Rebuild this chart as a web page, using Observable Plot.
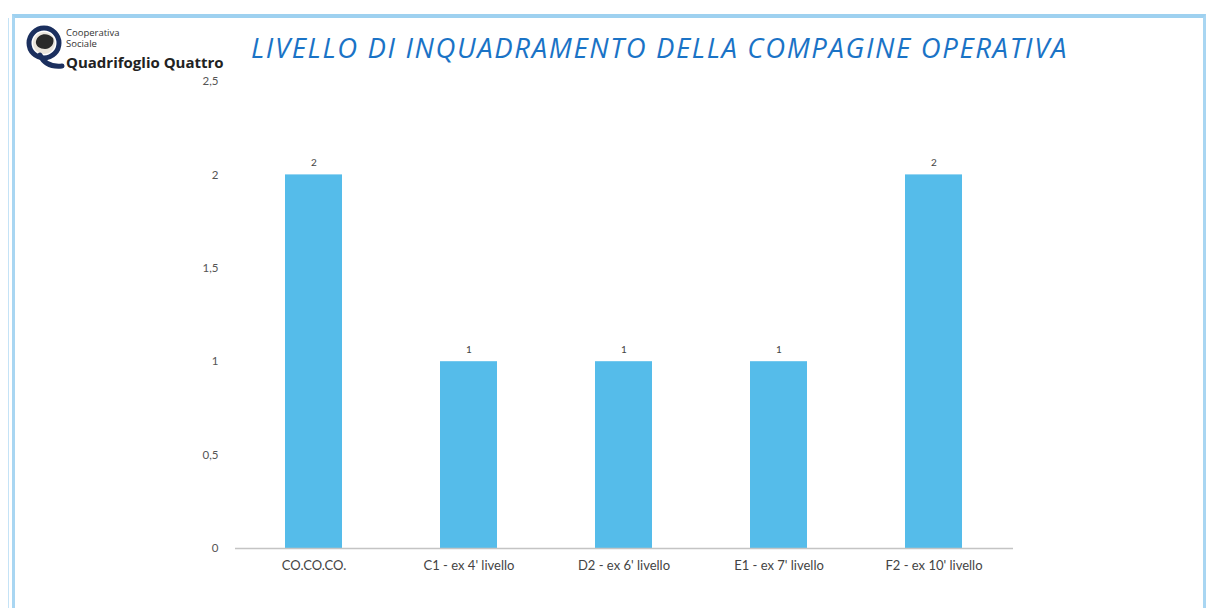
<!DOCTYPE html>
<html>
<head>
<meta charset="utf-8">
<script src="https://cdn.jsdelivr.net/npm/d3@7"></script>
<script src="https://cdn.jsdelivr.net/npm/@observablehq/plot@0.6"></script>
<style>
  html, body { margin: 0; padding: 0; background: #fff; }
  #wrap { position: relative; width: 1208px; height: 608px; overflow: hidden; background: #fff; }
  #frame { position: absolute; left: 12px; top: 14px; width: 1188px; height: 620px;
           border-top: 4px solid #9ed1f0; border-left: 3px solid #a9d6f2; border-right: 3px solid #a9d6f2; }
  #frame2 { position: absolute; left: 8px; top: 18px; width: 1px; height: 600px; background: #c5e3f6; }
  #title { position: absolute; left: 251px; top: 29px; font-family: "Open Sans", sans-serif; font-style: italic;
           font-size: 27.5px; line-height: 1.362; color: #1a73c6; letter-spacing: 1.65px; white-space: nowrap; }
  #logo { position: absolute; left: 26px; top: 24px; }
  #logotext { position: absolute; left: 66px; top: 27px; font-family: "Open Sans", sans-serif; color: #222; }
  #logotext .s { font-size: 9.5px; line-height: 11px; color: #333; }
  #logotext .b { font-size: 15px; line-height: 18px; font-weight: bold; margin-top: 4px; }
  #chart { position: absolute; left: 0; top: 0; }
</style>
</head>
<body>
<div id="wrap">
  <div id="frame"></div>
  <div id="frame2"></div>
  <div id="chart"></div>
  <svg id="logo" width="40" height="46" viewBox="0 0 40 46">
    <circle cx="18" cy="19" r="15" fill="none" stroke="#1b2f5e" stroke-width="5"/>
    <circle cx="18" cy="19" r="11" fill="#e9e4dc"/>
    <path d="M10 17 C12 9, 22 8, 27 14 C29 19, 25 25, 19 25 C14 25, 9 22, 10 17 Z" fill="#2a2a2a"/>
    <path d="M14 31 C18 40, 26 43, 36 42" fill="none" stroke="#1b2f5e" stroke-width="5" stroke-linecap="round"/>
  </svg>
  <div id="logotext">
    <div class="s">Cooperativa</div>
    <div class="s">Sociale</div>
    <div class="b">Quadrifoglio Quattro</div>
  </div>
  <div id="title">LIVELLO DI INQUADRAMENTO DELLA COMPAGINE OPERATIVA</div>
</div>
<script>
const categories = ["CO.CO.CO.", "C1 - ex 4' livello", "D2 - ex 6' livello", "E1 - ex 7' livello", "F2 - ex 10' livello"];
const values = [2, 1, 1, 1, 2];
const yTicks = [0, 0.5, 1, 1.5, 2, 2.5];

const data = categories.map((c, i) => ({category: c, value: values[i]}));
const fmt = d => String(d).replace(".", ",");

const chart = Plot.plot({
  width: 1208,
  height: 608,
  marginLeft: 235,
  marginRight: 195,
  marginTop: 81,
  marginBottom: 60,
  style: {background: "transparent", fontFamily: "Lato, 'Open Sans', sans-serif"},
  x: {domain: categories, paddingInner: 0.63, paddingOuter: 0.315, label: null, tickSize: 0, tickPadding: 12},
  y: {domain: [0, 2.5], ticks: yTicks, tickFormat: fmt, label: null, tickSize: 0, tickPadding: 17},
  marks: [
    Plot.barY(data, {x: "category", y: "value", fill: "#55bcea"}),
    Plot.ruleY([0], {stroke: "#c4c4c4", strokeWidth: 1.5}),
    Plot.text(data, {x: "category", y: "value", text: d => fmt(d.value), dy: -12, fontSize: 10, fill: "#444"}),
    Plot.axisY({ticks: yTicks, tickFormat: fmt, tickSize: 0, tickPadding: 17, fontSize: 11.5, color: "#555", label: null}),
    Plot.axisX({tickSize: 0, tickPadding: 12, fontSize: 13, color: "#444", label: null})
  ]
});
document.getElementById("chart").appendChild(chart);
</script>
</body>
</html>
